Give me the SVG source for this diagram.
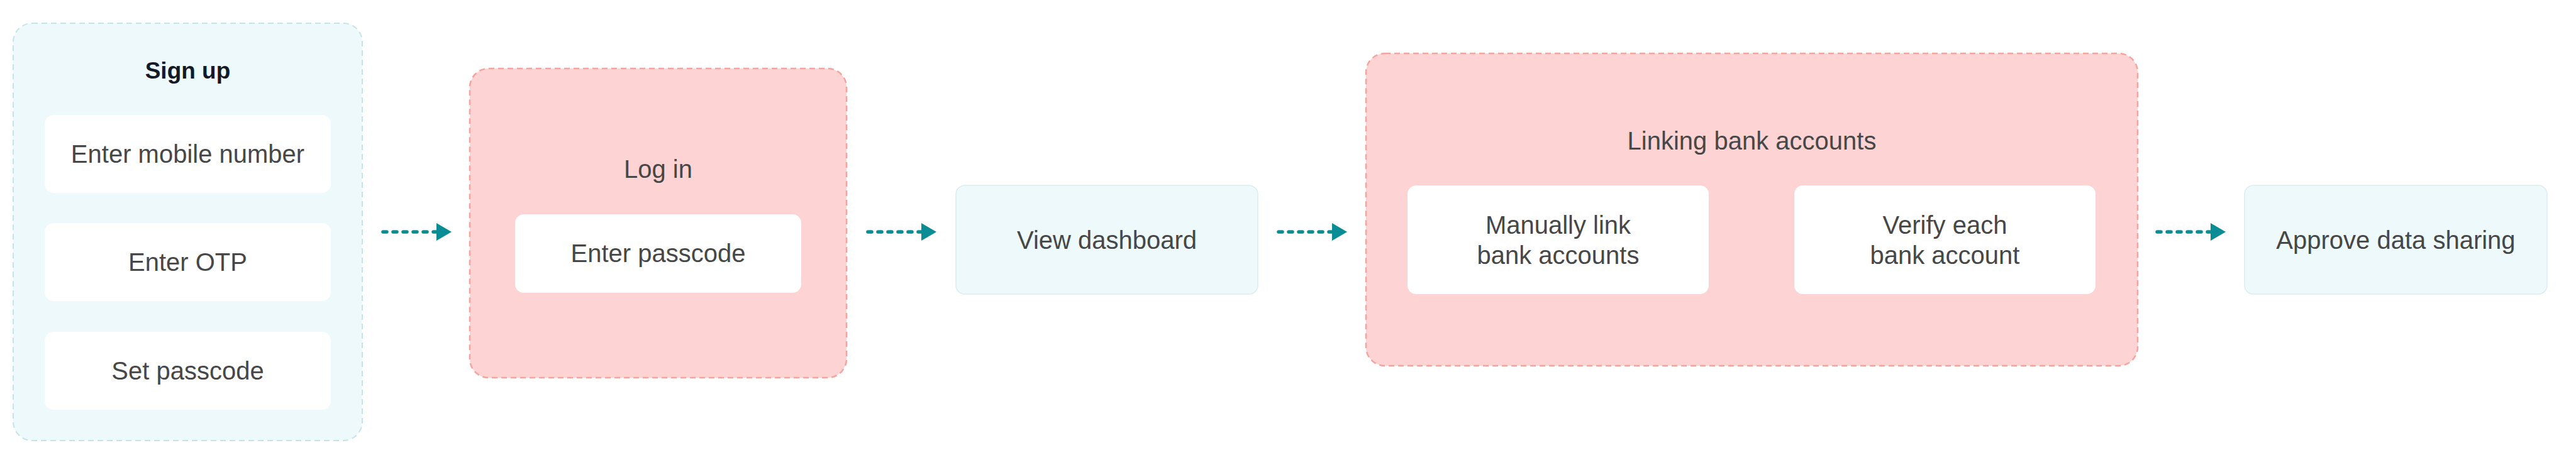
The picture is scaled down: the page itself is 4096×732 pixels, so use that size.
<svg xmlns="http://www.w3.org/2000/svg" width="4096" height="732" viewBox="0 0 4096 732">
  <style>
    .blueGroup { fill: #eef9fb; stroke: #c4e4e8; stroke-width: 2; stroke-dasharray: 9 6; }
    .pinkGroup { fill: #fdd4d3; stroke: #f7a39d; stroke-width: 2.5; stroke-dasharray: 9 6; }
    .inner { fill: #ffffff; }
    .step { fill: #eef9fb; stroke: #dcedf0; stroke-width: 1.5; }
    .lbl { font-family: "Liberation Sans", Arial, sans-serif; font-size: 40px; fill: #474747; text-anchor: middle; }
    .title { font-family: "Liberation Sans", Arial, sans-serif; font-size: 40px; fill: #474747; text-anchor: middle; }
    .titleDark { font-family: "Liberation Sans", Arial, sans-serif; font-size: 37px; font-weight: bold; fill: #141a28; text-anchor: middle; }
    .conn { stroke: #0a8c94; stroke-width: 5.5; stroke-linecap: round; stroke-dasharray: 6 10; fill: none; marker-end: url(#arrow); }
  </style>
  <defs>
    <marker id="arrow" markerUnits="userSpaceOnUse" markerWidth="24" markerHeight="28" viewBox="0 0 24 28" refX="0" refY="14" orient="auto">
      <path d="M0,0 L24,14 L0,28 Z" fill="#0a8c94"/>
    </marker>
  </defs>
  <rect x="0" y="0" width="4096" height="732" fill="#ffffff"/>

  <g id="signup">
    <rect class="blueGroup" x="21" y="37" width="555" height="664" rx="30"/>
    <text class="titleDark" x="298.5" y="125">Sign up</text>
    <g id="enter-mobile">
      <rect class="inner" x="71" y="183" width="455" height="124" rx="14"/>
      <text class="lbl" x="298.5" y="259">Enter mobile number</text>
    </g>
    <g id="enter-otp">
      <rect class="inner" x="71" y="355" width="455" height="124" rx="14"/>
      <text class="lbl" x="298.5" y="431">Enter OTP</text>
    </g>
    <g id="set-passcode">
      <rect class="inner" x="71" y="528" width="455" height="124" rx="14"/>
      <text class="lbl" x="298.5" y="604">Set passcode</text>
    </g>
  </g>

  <g id="login">
    <rect class="pinkGroup" x="747" y="109" width="599" height="492" rx="30"/>
    <text class="title" x="1046.5" y="283">Log in</text>
    <g id="enter-passcode">
      <rect class="inner" x="819" y="341" width="455" height="125" rx="14"/>
      <text class="lbl" x="1046.5" y="417">Enter passcode</text>
    </g>
  </g>

  <g id="view-dashboard">
    <rect class="step" x="1520" y="295" width="480" height="173" rx="14"/>
    <text class="lbl" x="1760" y="396">View dashboard</text>
  </g>

  <g id="linking">
    <rect class="pinkGroup" x="2172" y="85" width="1227" height="497" rx="30"/>
    <text class="title" x="2785.5" y="238">Linking bank accounts</text>
    <g id="manually-link">
      <rect class="inner" x="2238" y="295" width="479" height="173" rx="14"/>
      <text class="lbl" x="2477.5" y="372">Manually link</text>
      <text class="lbl" x="2477.5" y="420">bank accounts</text>
    </g>
    <g id="verify-each">
      <rect class="inner" x="2853" y="295" width="479" height="173" rx="14"/>
      <text class="lbl" x="3092.5" y="372">Verify each</text>
      <text class="lbl" x="3092.5" y="420">bank account</text>
    </g>
  </g>

  <g id="approve">
    <rect class="step" x="3569" y="295" width="481" height="173" rx="14"/>
    <text class="lbl" x="3809.5" y="396">Approve data sharing</text>
  </g>

  <g id="connectors">
    <line class="conn" x1="609" y1="369" x2="694" y2="369"/>
    <line class="conn" x1="1380" y1="369" x2="1465" y2="369"/>
    <line class="conn" x1="2033" y1="369" x2="2118" y2="369"/>
    <line class="conn" x1="3430" y1="369" x2="3515" y2="369"/>
  </g>
</svg>
